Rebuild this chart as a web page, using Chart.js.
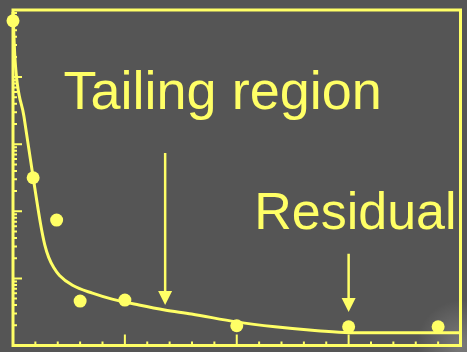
<!DOCTYPE html>
<html lang="en">
<head>
<meta charset="UTF-8">
<title>Tailing region / Residual</title>
<script src="https://cdn.jsdelivr.net/npm/chart.js"></script>
<style>
    * { margin: 0; padding: 0; box-sizing: border-box; }
    body { background: #555555; width: 467px; height: 352px; overflow: hidden; }
    canvas { display: block; }
</style>
</head>
<body>
<canvas id="decayChart" width="467" height="352"></canvas>
<script>
// measured points
const sampleTimes = [0, 0.9, 1.95, 3, 5, 10, 15, 19];
const sampleCounts = [69000, 316, 74, 4.6, 4.75, 1.97, 1.9, 1.9];

// fitted curve (fast drop, slow tail, flat residual)
const fitTimes = [0, 0.09, 0.49, 0.89, 1.24, 1.42, 1.6, 1.82, 2.08, 2.66, 3.55, 4.43, 5.63, 6.78, 7.98, 9.98, 11.71, 13.61, 15.03, 20];
const fitCounts = [93500, 18400, 2580, 338, 62.3, 31.6, 20.4, 14.5, 11.07, 7.89, 6.02, 4.91, 4.01, 3.38, 2.95, 2.25, 1.9, 1.66, 1.55, 1.55];

// arrows: [x, from, to] in data units
const tailArrow = [6.8, 740, 4.0];
const residualArrow = [15, 23.3, 3.16];

const yellow = '#ffff66';

const background = {
    id: 'background',
    beforeDraw(chart) {
        const { ctx, width, height } = chart;
        ctx.save();
        ctx.fillStyle = '#555555';
        ctx.fillRect(0, 0, width, height);
        // faint light streak in the lower right corner
        const g = ctx.createRadialGradient(462, 345, 0, 462, 345, 45);
        g.addColorStop(0, 'rgba(255,255,255,0.22)');
        g.addColorStop(1, 'rgba(255,255,255,0)');
        ctx.fillStyle = g;
        ctx.fillRect(400, 290, 67, 62);
        ctx.restore();
    }
};

const frameTicks = {
    id: 'frameTicks',
    afterDatasetsDraw(chart) {
        const { ctx, chartArea: a, scales: { x, y } } = chart;
        ctx.save();
        ctx.strokeStyle = yellow;
        ctx.lineWidth = 3;
        ctx.strokeRect(a.left, a.top, a.right - a.left, a.bottom - a.top);

        ctx.lineWidth = 2;
        ctx.beginPath();
        // log ticks on the left axis, pointing in
        for (let e = 0; e < 5; e++) {
            for (let m = 1; m <= 9; m++) {
                if (m === 1 && e === 0) continue;
                const py = y.getPixelForValue(m * Math.pow(10, e));
                const len = m === 1 ? 9 : 4;
                ctx.moveTo(a.left, py);
                ctx.lineTo(a.left + len, py);
            }
        }
        // time ticks on the bottom axis
        x.ticks.forEach(t => {
            if (t.value <= x.min || t.value >= x.max) return;
            const px = x.getPixelForValue(t.value);
            const len = t.value % 5 === 0 ? 11 : 4;
            ctx.moveTo(px, a.bottom);
            ctx.lineTo(px, a.bottom - len);
        });
        ctx.stroke();
        ctx.restore();
    }
};

function drawArrow(ctx, x, y, [xv, fromV, toV]) {
    const px = x.getPixelForValue(xv);
    const top = y.getPixelForValue(fromV);
    const tip = y.getPixelForValue(toV);
    const head = 14;
    ctx.beginPath();
    ctx.moveTo(px, top);
    ctx.lineTo(px, tip - head + 1);
    ctx.stroke();
    ctx.beginPath();
    ctx.moveTo(px - 7, tip - head);
    ctx.lineTo(px + 7, tip - head);
    ctx.lineTo(px, tip);
    ctx.closePath();
    ctx.fill();
}

const annotations = {
    id: 'annotations',
    afterDraw(chart) {
        const { ctx, scales: { x, y } } = chart;
        ctx.save();
        ctx.fillStyle = yellow;
        ctx.strokeStyle = yellow;
        ctx.lineWidth = 2.5;
        drawArrow(ctx, x, y, tailArrow);
        drawArrow(ctx, x, y, residualArrow);

        ctx.textBaseline = 'alphabetic';
        ctx.textAlign = 'left';
        ctx.font = '54px "Liberation Sans", Arial, sans-serif';
        ctx.fillText('Tailing region', x.getPixelForValue(2.26), y.getPixelForValue(3384));
        ctx.font = '52px "Liberation Sans", Arial, sans-serif';
        ctx.fillText('Residual', x.getPixelForValue(10.78), y.getPixelForValue(54.4));
        ctx.restore();
    }
};

new Chart(document.getElementById('decayChart'), {
    type: 'scatter',
    data: {
        datasets: [
            {
                label: 'Fit',
                type: 'line',
                data: fitTimes.map((t, i) => ({ x: t, y: fitCounts[i] })),
                borderColor: yellow,
                borderWidth: 3,
                pointRadius: 0,
                cubicInterpolationMode: 'monotone',
                fill: false,
                clip: false
            },
            {
                label: 'Data',
                data: sampleTimes.map((t, i) => ({ x: t, y: sampleCounts[i] })),
                backgroundColor: yellow,
                borderWidth: 0,
                pointRadius: 6.5,
                clip: false
            }
        ]
    },
    options: {
        responsive: false,
        animation: false,
        devicePixelRatio: 1,
        layout: { padding: { left: 13, top: 10, right: 3, bottom: 2 } },
        scales: {
            x: { type: 'linear', min: 0, max: 20, display: false, ticks: { stepSize: 1 } },
            y: { type: 'logarithmic', min: 1, max: 100000, display: false }
        },
        plugins: {
            legend: { display: false },
            tooltip: { enabled: false }
        }
    },
    plugins: [background, frameTicks, annotations]
});
</script>
</body>
</html>
